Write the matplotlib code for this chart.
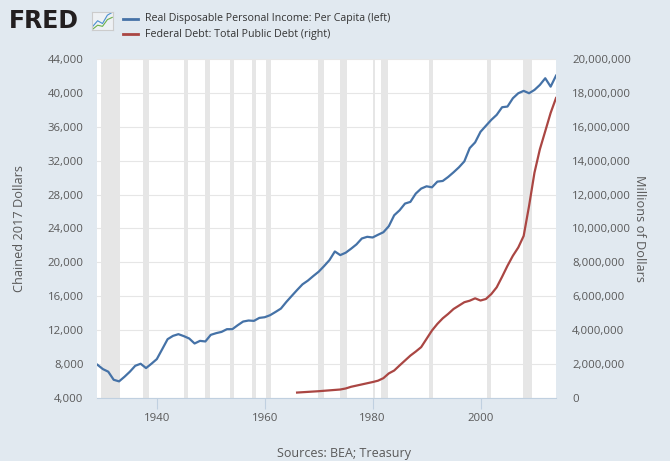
import numpy as np
import matplotlib.pyplot as plt
from matplotlib.ticker import FuncFormatter

# Real disposable personal income per capita (chained 2017 dollars), annual
inc_years = list(range(1929, 2015))
inc_vals = [7918, 7410, 7100, 6150, 5960, 6500, 7100, 7800, 8040, 7530,
            8040, 8590, 9760, 10940, 11330, 11530, 11300, 11020, 10430, 10740,
            10670, 11450, 11650, 11800, 12120, 12120, 12590, 13020, 13140, 13100,
            13450, 13530, 13770, 14150, 14550, 15330, 16040, 16740, 17410, 17850,
            18390, 18900, 19560, 20270, 21290, 20860, 21140, 21610, 22120, 22820,
            23020, 22940, 23260, 23560, 24270, 25560, 26150, 26940, 27140, 28120,
            28710, 28980, 28860, 29530, 29610, 30080, 30630, 31220, 31920, 33490,
            34160, 35410, 36120, 36820, 37410, 38310, 38390, 39370, 39960, 40240,
            39960, 40350, 40940, 41730, 40740, 42040]

# Federal debt: total public debt (millions of dollars)
debt_years = [1966, 1968, 1970, 1972, 1974, 1975, 1976, 1978, 1980, 1981,
              1982, 1983, 1984, 1985, 1986, 1987, 1988, 1989, 1990, 1991,
              1992, 1993, 1994, 1995, 1996, 1997, 1998, 1999, 2000, 2001,
              2002, 2003, 2004, 2005, 2006, 2007, 2008, 2009, 2010, 2011,
              2012, 2013, 2014]
debt_vals = [320000, 360000, 400000, 450000, 500000, 560000, 660000, 800000, 940000, 1020000,
             1170000, 1450000, 1620000, 1920000, 2210000, 2500000, 2740000, 3000000, 3490000, 3980000,
             4370000, 4700000, 4960000, 5250000, 5450000, 5650000, 5740000, 5880000, 5750000, 5840000,
             6130000, 6530000, 7150000, 7800000, 8390000, 8880000, 9560000, 11330000, 13290000, 14670000,
             15740000, 16820000, 17700000]

recessions = [(1929.6, 1933.2), (1937.4, 1938.5), (1945.1, 1945.8), (1948.9, 1949.8),
              (1953.5, 1954.3), (1957.6, 1958.3), (1960.3, 1961.1), (1969.9, 1970.9),
              (1973.9, 1975.2), (1980.0, 1980.5), (1981.5, 1982.9), (1990.5, 1991.2),
              (2001.2, 2001.9), (2007.9, 2009.5)]

bg = '#e1e9f0'
txt = '#595959'
blue = '#4572a7'
red = '#aa4643'

plt.rcParams['font.family'] = ['Open Sans', 'DejaVu Sans']

fig = plt.figure(figsize=(6.7, 4.61), dpi=100, facecolor=bg)
ax = fig.add_axes([0.1455, 0.1367, 0.6844, 0.7353])
ax.set_facecolor('white')

for a, b in recessions:
    ax.axvspan(a, b, color='#e6e6e6', lw=0, zorder=0)

ax.plot(inc_years, inc_vals, color=blue, lw=1.6, zorder=3)
ax.set_xlim(1929, 2014)
ax.set_ylim(4000, 44000)
ax.set_yticks(np.arange(4000, 44001, 4000))
ax.yaxis.set_major_formatter(FuncFormatter(lambda v, p: f'{int(v):,}'))
ax.set_xticks([1940, 1960, 1980, 2000])
ax.grid(axis='y', color='#e6e6e6', lw=0.8)
ax.set_axisbelow(True)
for s in ['top', 'right', 'left']:
    ax.spines[s].set_visible(False)
ax.spines['bottom'].set_color('#c0d0e0')
ax.tick_params(axis='x', colors='#c0d0e0', labelcolor=txt, length=8, labelsize=8.2, pad=3)
ax.tick_params(axis='y', length=0, labelcolor=txt, labelsize=8.2, pad=10)
ax.set_ylabel('Chained 2017 Dollars', color=txt, fontsize=9.2, ha='center', va='center',
              rotation_mode='default')
ax.yaxis.set_label_coords(-0.170, 0.5)

ax2 = ax.twinx()
ax2.plot(debt_years, debt_vals, color=red, lw=1.6, zorder=3)
ax2.set_ylim(0, 20000000)
ax2.set_yticks(np.arange(0, 20000001, 2000000))
ax2.yaxis.set_major_formatter(FuncFormatter(lambda v, p: f'{int(v):,}'))
for s in ax2.spines.values():
    s.set_visible(False)
ax2.tick_params(axis='y', length=0, labelcolor=txt, labelsize=8.2, pad=11.5)
ax2.set_ylabel('Millions of Dollars', color=txt, fontsize=9.2, rotation=270, ha='center',
               va='center', rotation_mode='default')
ax2.yaxis.set_label_coords(1.181, 0.5)

# legend / header
fig.text(0.013, 0.955, 'FRED', fontsize=17, fontweight='bold', color='#231f20',
         va='center', ha='left', family=['DejaVu Sans'])
logo = fig.add_axes([0.137, 0.935, 0.032, 0.04])
logo.set_facecolor('#eef1f4')
logo.plot([0, 1, 2, 3, 4], [1, 2, 1.5, 3, 3.5], color='#4b8fd0', lw=0.8)
logo.plot([0, 1, 2, 3, 4], [0.5, 1.2, 1.0, 2.2, 2.6], color='#6bb04a', lw=0.8)
logo.set_xticks([]); logo.set_yticks([])
for s in logo.spines.values():
    s.set_color('#cccccc')

fig.lines.append(plt.Line2D([0.184, 0.206], [0.959, 0.959], color=blue, lw=2, transform=fig.transFigure))
fig.lines.append(plt.Line2D([0.184, 0.206], [0.926, 0.926], color=red, lw=2, transform=fig.transFigure))
fig.text(0.216, 0.959, 'Real Disposable Personal Income: Per Capita (left)', fontsize=7.7,
         color='#333333', va='center')
fig.text(0.216, 0.926, 'Federal Debt: Total Public Debt (right)', fontsize=7.7,
         color='#333333', va='center')

fig.text(0.513, 0.017, 'Sources: BEA; Treasury', fontsize=9, color=txt, ha='center', va='center')

fig.savefig('out.png', dpi=100, facecolor=bg)
